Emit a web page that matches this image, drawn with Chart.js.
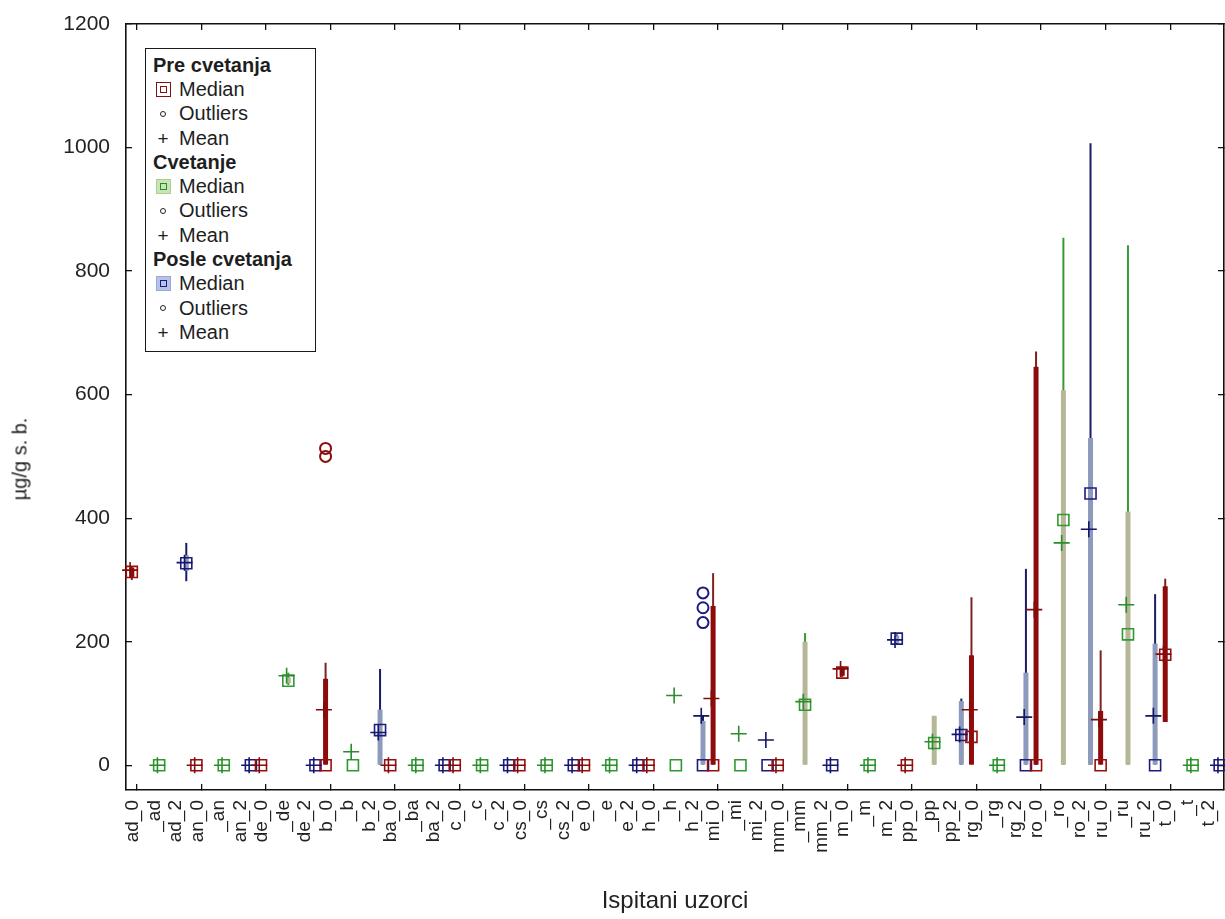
<!DOCTYPE html>
<html>
<head>
<meta charset="utf-8">
<title>Ispitani uzorci</title>
<script src="https://cdn.jsdelivr.net/npm/chart.js@4.4.1/dist/chart.umd.min.js"></script>
<style>
  html, body { margin: 0; padding: 0; background: #fff; }
  #okvir { position: relative; width: 1225px; height: 919px; overflow: hidden; }
  #legenda {
    position: absolute; left: 145px; top: 48px; width: 171px; height: 304px;
    box-sizing: border-box; border: 1.5px solid #1a1a1a; background: #fff;
    padding: 4px 0 0 7px;
    font-family: 'Liberation Sans', Arial, sans-serif; font-size: 20px; color: #1e1e1e;
  }
  #legenda .red { height: 24.3px; display: flex; align-items: center; white-space: nowrap; }
  #legenda .nasl { font-weight: bold; }
  #legenda .sim { width: 20px; margin-right: 6px; display: inline-flex; justify-content: center; align-items: center; }
  .kutija { width: 15px; height: 15px; box-sizing: border-box; border: 1.5px solid; display: inline-flex; justify-content: center; align-items: center; }
  .kutija i { width: 7px; height: 7px; box-sizing: border-box; border: 1.5px solid; display: block; }
  .krug { width: 6px; height: 6px; border-radius: 50%; box-sizing: border-box; border: 1.3px solid #222; display: block; }
  .plus { font-size: 19px; line-height: 1; }
  #ynaslov {
    position: absolute; left: 20px; top: 459px; transform: translate(-50%, -50%) rotate(-90deg);
    font-family: 'Liberation Sans', Arial, sans-serif; font-size: 20px; color: #222; white-space: nowrap;
  }
</style>
</head>
<body>
<div id="okvir">
  <canvas id="grafik" width="1225" height="919"></canvas>
  <div id="ynaslov">µg/g s. b.</div>
  <div id="legenda">
    <div class="red nasl">Pre cvetanja</div>
    <div class="red"><span class="sim"><span class="kutija" style="border-color:#7a1414;background:#fff"><i style="border-color:#8b1010"></i></span></span>Median</div>
    <div class="red"><span class="sim"><span class="krug"></span></span>Outliers</div>
    <div class="red"><span class="sim plus">+</span>Mean</div>
    <div class="red nasl">Cvetanje</div>
    <div class="red"><span class="sim"><span class="kutija" style="border-color:#a9cf93;background:#c9e4b6"><i style="border-color:#2b8a2b"></i></span></span>Median</div>
    <div class="red"><span class="sim"><span class="krug"></span></span>Outliers</div>
    <div class="red"><span class="sim plus">+</span>Mean</div>
    <div class="red nasl">Posle cvetanja</div>
    <div class="red"><span class="sim"><span class="kutija" style="border-color:#9aa9d6;background:#b6c3e8"><i style="border-color:#1c1c78"></i></span></span>Median</div>
    <div class="red"><span class="sim"><span class="krug"></span></span>Outliers</div>
    <div class="red"><span class="sim plus">+</span>Mean</div>
  </div>
</div>
<script>
// uzorci: _0 = pre cvetanja, srednji = cvetanje, _2 = posle cvetanja
const kategorije = [
  'ad_0', '_ad', 'ad_2', 'an_0', '_an', 'an_2', 'de_0', '_de', 'de_2',
  'b_0', '_b', 'b_2', 'ba_0', '_ba', 'ba_2', 'c_0', '_c', 'c_2',
  'cs_0', '_cs', 'cs_2', 'e_0', '_e', 'e_2', 'h_0', '_h', 'h_2',
  'mi_0', '_mi', 'mi_2', 'mm_0', '_mm', 'mm_2', 'm_0', '_m', 'm_2',
  'pp_0', '_pp', 'pp_2', 'rg_0', '_rg', 'rg_2', 'ro_0', '_ro', 'ro_2',
  'ru_0', '_ru', 'ru_2', 't_0', '_t', 't_2'
];
const serije = ['Pre cvetanja', 'Cvetanje', 'Posle cvetanja'];

// µg/g s. b. po uzorku
const medijana = [313, 0, 327, 0, 0, 0, 0, 137, 0, 0, 0, 57, 0, 0, 0, 0, 0, 0,
  0, 0, 0, 0, 0, 0, 0, 0, 0, 0, 0, 0, 0, 98, 0, 150, 0, 205,
  0, 36, 49, 46, 0, 0, 0, 397, 440, 0, 212, 0, 179, 0, 0];
const sredina = [316, 0, 328, 0, 0, 0, 0, 145, 0, 90, 22, 53, 0, 0, 0, 0, 0, 0,
  0, 0, 0, 0, 0, 0, 0, 113, 80, 108, 51, 41, 0, 103, 0, 156, 0, 203,
  0, 38, 50, 90, 0, 78, 252, 360, 382, 74, 260, 80, 180, 0, 0];
const q25 = [305, 0, 315, 0, 0, 0, 0, 133, 0, 0, 0, 0, 0, 0, 0, 0, 0, 0,
  0, 0, 0, 0, 0, 0, 0, 0, 0, 0, 0, 0, 0, 0, 0, 145, 0, 198,
  0, 0, 0, 0, 0, 0, 0, 0, 0, 0, 0, 0, 70, 0, 0];
const q75 = [320, 0, 340, 0, 0, 0, 0, 142, 0, 140, 0, 90, 0, 0, 0, 0, 0, 0,
  0, 0, 0, 0, 0, 0, 0, 0, 72, 258, 0, 0, 0, 200, 0, 158, 0, 210,
  0, 80, 104, 178, 0, 150, 645, 607, 530, 88, 411, 197, 290, 0, 0];
const minimum = [300, 0, 298, 0, 0, 0, 0, 130, 0, 0, 0, 0, 0, 0, 0, 0, 0, 0,
  0, 0, 0, 0, 0, 0, 0, 0, 0, 0, 0, 0, 0, 0, 0, 143, 0, 196,
  0, 0, 0, 0, 0, 0, 0, 0, 0, 0, 0, 0, 70, 0, 0];
const maksimum = [322, 0, 360, 0, 0, 0, 0, 150, 0, 166, 0, 156, 0, 0, 0, 0, 0, 0,
  0, 0, 0, 0, 0, 0, 0, 0, 80, 311, 0, 0, 0, 214, 0, 160, 0, 212,
  0, 80, 108, 272, 0, 318, 670, 854, 1007, 186, 842, 277, 302, 0, 0];
const izuzeciUzorak = [9, 9, 26, 26, 26];
const izuzeciVrednost = [500, 513, 231, 255, 279];
const yPodeoci = [0, 200, 400, 600, 800, 1000, 1200];

// boje i pomeraji serija unutar jednog mesta na osi
const boje = [
  { linija: '#7d2222', kutija: '#8e0b0b', znak: '#9a0d0d', sred: '#800c0c', izuz: '#8b0f0f' },
  { linija: '#379a37', kutija: '#b6b797', znak: '#2e9a2e', sred: '#2a8c2a', izuz: '#2a8c2a' },
  { linija: '#1b1b66', kutija: '#8d9abb', znak: '#1c1c80', sred: '#15156a', izuz: '#1c1c80' }
];
const pomeraj = [-0.23, 0.04, 0.3];

const font = 'Liberation Sans, Arial, sans-serif';
const crna = '#111';

const skupovi = [];
serije.forEach((naziv, s) => {
  const uzorci = kategorije.map((k, i) => i).filter(i => i % 3 === s);
  const b = boje[s];
  skupovi.push({
    type: 'bar', label: naziv + ' brkovi', order: 3, grouped: false,
    backgroundColor: b.linija, borderWidth: 0, maxBarThickness: 2, barPercentage: 1,
    data: uzorci.filter(i => maksimum[i] > minimum[i])
      .map(i => ({ x: i + pomeraj[s], y: [minimum[i], maksimum[i]] }))
  });
  skupovi.push({
    type: 'bar', label: naziv + ' kutija', order: 2, grouped: false,
    backgroundColor: b.kutija, borderWidth: 0, maxBarThickness: 5, barPercentage: 1,
    data: uzorci.filter(i => q75[i] > q25[i])
      .map(i => ({ x: i + pomeraj[s], y: [q25[i], q75[i]] }))
  });
  skupovi.push({
    type: 'scatter', label: naziv + ' Median', order: 1, clip: false,
    pointStyle: 'rect', pointRadius: 7.8, borderWidth: 1.6,
    borderColor: b.znak, backgroundColor: 'rgba(0,0,0,0)',
    data: uzorci.map(i => ({ x: i + pomeraj[s], y: medijana[i] }))
  });
  skupovi.push({
    type: 'scatter', label: naziv + ' Mean', order: 0, clip: false,
    pointStyle: 'cross', pointRadius: 8, borderWidth: 1.6,
    borderColor: b.sred,
    data: uzorci.map(i => ({ x: i + pomeraj[s] - 0.08, y: sredina[i] }))
  });
  skupovi.push({
    type: 'scatter', label: naziv + ' Outliers', order: 0, clip: false,
    pointStyle: 'circle', pointRadius: 5.5, borderWidth: 2,
    borderColor: b.izuz, backgroundColor: 'rgba(0,0,0,0)',
    data: izuzeciUzorak.map((u, j) => ({ u, v: izuzeciVrednost[j] }))
      .filter(o => o.u % 3 === s)
      .map(o => ({ x: o.u + pomeraj[s], y: o.v }))
  });
});

const celiBrojevi = kategorije.map((k, i) => ({ value: i }));
const svakiTreci = celiBrojevi.filter(t => t.value % 3 === 0);

// bez dodatnog razmaka koji Chart.js ostavlja za krajnje oznake
const nula = () => ({ left: 0, top: 0, right: 0, bottom: 0 });
function bezRazmaka(sc) {
  sc.paddingLeft = 0; sc.paddingRight = 0; sc.paddingTop = 0; sc.paddingBottom = 0;
  sc.getPadding = nula;
}

new Chart(document.getElementById('grafik'), {
  type: 'scatter',
  data: { datasets: skupovi },
  options: {
    responsive: false,
    devicePixelRatio: 1,
    animation: false,
    events: [],
    layout: { padding: 0, autoPadding: false },
    plugins: { legend: { display: false }, tooltip: { enabled: false } },
    scales: {
      x: {
        type: 'linear', position: 'bottom', min: -0.5, max: kategorije.length - 0.5,
        offset: false,
        afterBuildTicks: sc => { sc.ticks = celiBrojevi.map(t => ({ value: t.value })); },
        afterFit: sc => { sc.height = 129; bezRazmaka(sc); },
        grid: {
          offset: false, drawOnChartArea: false, tickLength: -6, lineWidth: 1.3,
          color: c => (c.tick && c.tick.value % 3 === 0) ? crna : 'rgba(0,0,0,0)'
        },
        border: { display: true, color: crna, width: 1.6 },
        ticks: {
          autoSkip: false, minRotation: 90, maxRotation: 90, padding: 16, labelOffset: -4,
          font: { family: font, size: 19 }, color: '#222',
          callback: v => kategorije[v] ?? ''
        },
        title: {
          display: true, text: 'Ispitani uzorci', color: '#222',
          font: { family: font, size: 24 }, padding: { top: 0, bottom: 3 }
        }
      },
      x2: {
        type: 'linear', position: 'top', min: -0.5, max: kategorije.length - 0.5,
        offset: false,
        afterBuildTicks: sc => { sc.ticks = svakiTreci.map(t => ({ value: t.value })); },
        afterFit: sc => { sc.height = 24; bezRazmaka(sc); },
        grid: { offset: false, drawOnChartArea: false, tickLength: -6, lineWidth: 1.3, color: crna },
        border: { display: true, color: crna, width: 1.6 },
        ticks: { display: false }
      },
      y: {
        type: 'linear', position: 'left', min: -40, max: 1200,
        afterBuildTicks: sc => { sc.ticks = yPodeoci.map(v => ({ value: v })); },
        afterFit: sc => { sc.width = 126; bezRazmaka(sc); },
        grid: { drawOnChartArea: false, tickLength: -6, lineWidth: 1.3, color: crna },
        border: { display: true, color: crna, width: 1.6 },
        ticks: {
          padding: 22, color: '#222', font: { family: font, size: 21 },
          callback: v => String(v)
        }
      },
      y2: {
        type: 'linear', position: 'right', min: -40, max: 1200,
        afterBuildTicks: sc => { sc.ticks = yPodeoci.map(v => ({ value: v })); },
        afterFit: sc => { sc.width = 1; bezRazmaka(sc); },
        grid: { drawOnChartArea: false, tickLength: -6, lineWidth: 1.3, color: crna },
        border: { display: true, color: crna, width: 1.6 },
        ticks: { display: false }
      }
    }
  }
});
</script>
</body>
</html>
